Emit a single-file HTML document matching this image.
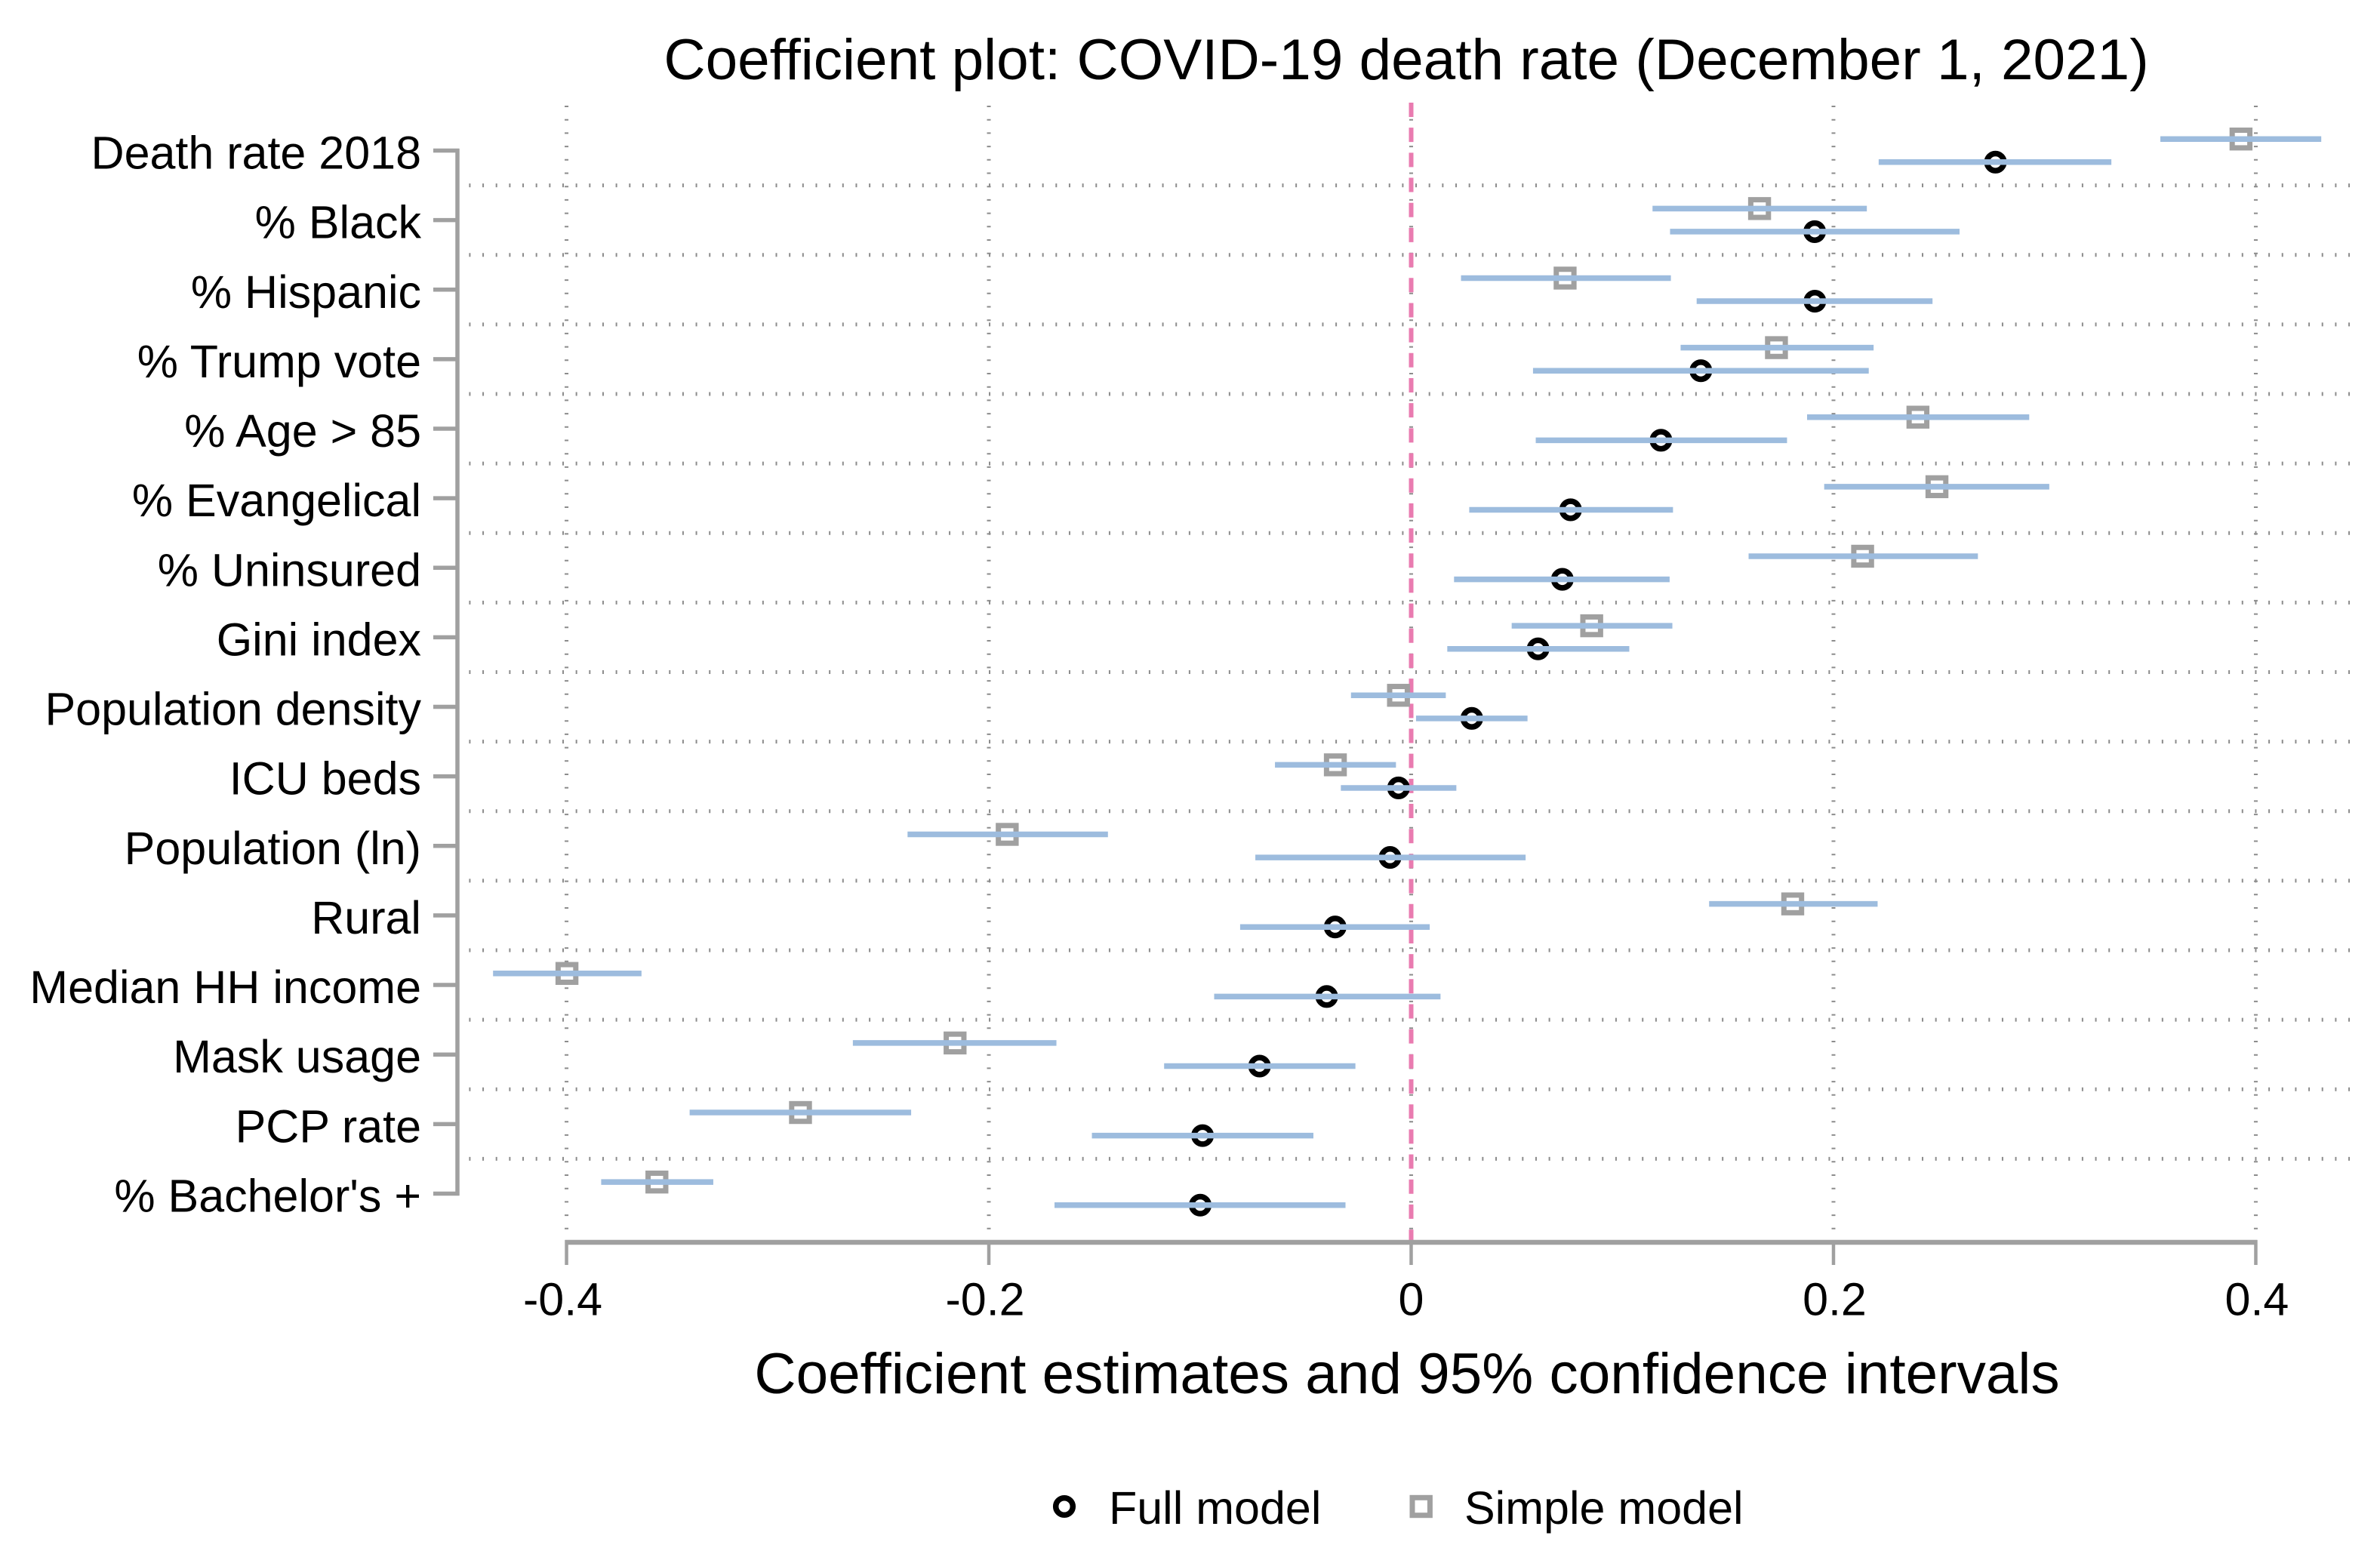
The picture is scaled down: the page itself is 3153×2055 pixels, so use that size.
<!DOCTYPE html>
<html lang="en">
<head>
<meta charset="utf-8">
<title>Coefficient plot: COVID-19 death rate (December 1, 2021)</title>
<style>
html,body{margin:0;padding:0;background:#fff;}
svg{display:block;}
text{font-family:"Liberation Sans",Arial,sans-serif;fill:#000;}
</style>
</head>
<body>
<svg id="chart" xmlns="http://www.w3.org/2000/svg" width="3153" height="2055" viewBox="0 0 3153 2055">
<rect x="0" y="0" width="3153" height="2055" fill="#ffffff"/>
<text x="1863" y="105" font-size="76.5" text-anchor="middle">Coefficient plot: COVID-19 death rate (December 1, 2021)</text>
<text x="1864" y="1846" font-size="76.5" text-anchor="middle">Coefficient estimates and 95% confidence intervals</text>
<g id="grid"></g>
<g id="axes"></g>
<g id="marks"></g>
<g>
<g>
<circle cx="1410" cy="1996" r="11.3" fill="none" stroke="#000000" stroke-width="7.5"/>
<text x="1469" y="2019" font-size="61">Full model</text>
</g>
<g>
<rect x="1871" y="1984.3" width="23.4" height="23.4" fill="none" stroke="#a0a0a0" stroke-width="7"/>
<text x="1940" y="2019" font-size="61">Simple model</text>
</g>
</g>
</svg>
<script>
var categories = ["Death rate 2018","% Black","% Hispanic","% Trump vote","% Age > 85","% Evangelical","% Uninsured","Gini index","Population density","ICU beds","Population (ln)","Rural","Median HH income","Mask usage","PCP rate","% Bachelor's +"];
var fullEstimate = [0.2767,0.1911,0.1912,0.1372,0.1183,0.0755,0.0716,0.0601,0.0287,-0.0060,-0.0100,-0.0360,-0.0400,-0.0718,-0.0988,-0.0999];
var fullLower = [0.2214,0.1226,0.1352,0.0577,0.0590,0.0275,0.0203,0.0171,0.0023,-0.0333,-0.0738,-0.0810,-0.0933,-0.1170,-0.1512,-0.1689];
var fullUpper = [0.3316,0.2597,0.2469,0.2167,0.1780,0.1240,0.1224,0.1033,0.0551,0.0214,0.0542,0.0088,0.0139,-0.0264,-0.0463,-0.0311];
var simpleEstimate = [0.3930,0.1650,0.0729,0.1730,0.2400,0.2490,0.2138,0.0855,-0.0060,-0.0359,-0.1913,0.1807,-0.3998,-0.2160,-0.2892,-0.3572];
var simpleLower = [0.3548,0.1143,0.0236,0.1276,0.1875,0.1956,0.1598,0.0476,-0.0285,-0.0645,-0.2385,0.1411,-0.4348,-0.2644,-0.3417,-0.3836];
var simpleUpper = [0.4310,0.2158,0.1230,0.2190,0.2927,0.3022,0.2684,0.1237,0.0164,-0.0072,-0.1436,0.2209,-0.3645,-0.1680,-0.2368,-0.3305];
var xTickValues = [-0.4,-0.2,0,0.2,0.4];
var xTickLabels = ["-0.4","-0.2","0","0.2","0.4"];

var NS = "http://www.w3.org/2000/svg";
function xScale(v){ return 1869.5 + v * 2797.4; }
function yScale(i){ return 199.5 + i * 92.13; }
function labelShift(v){ return v < 0 ? -5 : (v > 0 ? 1.5 : 0); }
function make(tag, attrs, parent){
  var el = document.createElementNS(NS, tag);
  for (var k in attrs) { el.setAttribute(k, attrs[k]); }
  parent.appendChild(el);
  return el;
}
var grid = document.getElementById("grid");
var axes = document.getElementById("axes");
var marks = document.getElementById("marks");
var GRAY = "#a0a0a0", DOT = "#8c8c8c", BLUE = "#9dbcde", PINK = "#e97bb0";
var lastIndex = categories.length - 1;

// vertical dotted grid
xTickValues.forEach(function(v, t){
  if (v === 0) { return; }
  var g = make("line", {x1:xScale(v), x2:xScale(v), y1:140, y2:1630, stroke:DOT, "stroke-width":5, "stroke-dasharray":"2 15.7"}, grid);
  
  
});
// dots under the reference line
var zeroDots = make("line", {x1:xScale(0), x2:xScale(0), y1:140, y2:1630, stroke:DOT, "stroke-width":5, "stroke-dasharray":"2 15.7"}, grid);


// horizontal dotted grid between categories
for (var h = 0; h < lastIndex; h++) {
  var hy = yScale(h) + 46.1;
  var hl = make("line", {x1:621.4, x2:3114, y1:hy, y2:hy, stroke:DOT, "stroke-width":5, "stroke-dasharray":"2 15.657"}, grid);
  
  
}
// reference line at zero
var ref = make("line", {x1:xScale(0), x2:xScale(0), y1:136, y2:1643, stroke:PINK, "stroke-width":6, "stroke-dasharray":"19 14.18"}, grid);



// y axis
var yAxis = make("line", {x1:606, x2:606, y1:yScale(0)-2.5, y2:yScale(lastIndex)+2.5, stroke:GRAY, "stroke-width":5.5}, axes);


categories.forEach(function(c, i){
  var t = make("line", {x1:574, x2:608.5, y1:yScale(i), y2:yScale(i), stroke:GRAY, "stroke-width":5.5}, axes);
  
  
  var l = make("text", {x:558, y:yScale(i)+24, "font-size":61, "text-anchor":"end"}, axes);
  
  
  l.textContent = c;
});
// x axis
var xAxis = make("line", {x1:xScale(xTickValues[0])-2, x2:xScale(xTickValues[xTickValues.length-1])+2, y1:1646, y2:1646, stroke:GRAY, "stroke-width":6.5}, axes);


xTickValues.forEach(function(v, t){
  var tk = make("line", {x1:xScale(v), x2:xScale(v), y1:1643, y2:1676, stroke:GRAY, "stroke-width":4.5}, axes);
  
  
  var lb = make("text", {x:xScale(v)+labelShift(v), y:1742.5, "font-size":61, "text-anchor":"middle"}, axes);
  
  
  lb.textContent = xTickLabels[t];
});

// series
categories.forEach(function(c, i){
  var ys = yScale(i) - 15.3;
  var yf = yScale(i) + 15.3;

  var sq = make("rect", {x:xScale(simpleEstimate[i])-11.7, y:ys-11.7, width:23.4, height:23.4, fill:"none", stroke:GRAY, "stroke-width":7}, marks);
  
  
  var sl = make("line", {x1:xScale(simpleLower[i]), x2:xScale(simpleUpper[i]), y1:ys, y2:ys, stroke:BLUE, "stroke-width":7.5}, marks);
  
  

  var ci = make("circle", {cx:xScale(fullEstimate[i]), cy:yf, r:11.3, fill:"none", stroke:"#000000", "stroke-width":7.5}, marks);
  
  
  var fl = make("line", {x1:xScale(fullLower[i]), x2:xScale(fullUpper[i]), y1:yf, y2:yf, stroke:BLUE, "stroke-width":7.5}, marks);
  
  
});
</script>
</body>
</html>
